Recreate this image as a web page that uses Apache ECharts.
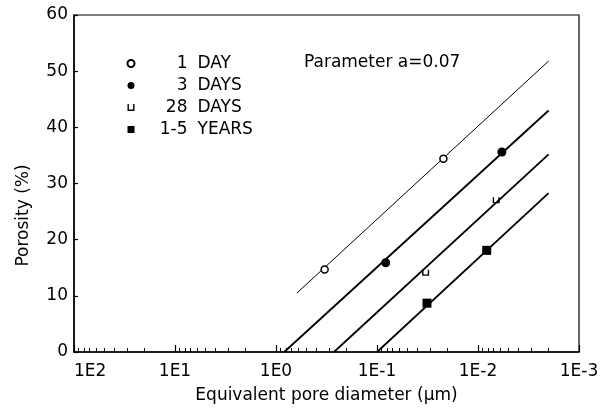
<!DOCTYPE html>
<html>
<head>
<meta charset="utf-8">
<script src="https://cdn.jsdelivr.net/npm/echarts@6/dist/echarts.min.js"></script>
<style>html,body{margin:0;padding:0;background:#fff}#c{width:607px;height:410px}</style>
</head>
<body>
<div id="c"></div>
<script>
// ---- data ----
var seriesNames = ['1 DAY', '3 DAYS', '28 DAYS', '1-5 YEARS'];
var legendNum = ['1', '3', '28', '1-5'];
var legendWord = ['DAY', 'DAYS', 'DAYS', 'YEARS'];

// measured points [diameter (um), porosity (%)]
var day1Points = [[0.33, 14.7], [0.022, 34.4]];
var day3Points = [[0.082, 15.9], [0.0058, 35.6]];
var day28Points = [[0.033, 14.1], [0.0066, 27.0]];
var year15Points = [[0.032, 8.7], [0.0082, 18.1]];

// fitted lines (end points) [diameter (um), porosity (%)]
var day1Line = [[0.62, 10.5], [0.002, 51.8]];
var day3Line = [[0.83, 0], [0.002, 43.0]];
var day28Line = [[0.267, 0], [0.002, 35.2]];
var year15Line = [[0.1, 0], [0.002, 28.3]];

// axis
var xMin = 0.001, xMax = 100;
var decades = [10, 1, 0.1, 0.01, 0.001];
var minorMult = [2, 3, 4, 5, 6, 7, 8, 9];
var parameterText = 'Parameter a=0.07';
var xTitle = 'Equivalent pore diameter (\u03bcm)';
var yTitle = 'Porosity (%)';

var minorTicks = [];
decades.forEach(function (d) { minorMult.forEach(function (m) { minorTicks.push(+(d * m).toPrecision(3)); }); });

var FONT = 'DejaVu Sans';
var chart = echarts.init(document.getElementById('c'), null, {renderer: 'canvas'});

var uPath = 'path://M0,0 L2,0 L2,8 L8,8 L8,0 L10,0 L10,10 L0,10 Z';

function lineSeries(name, data, w) {
  return {
    name: name, type: 'line', data: data, xAxisIndex: 0, yAxisIndex: 0,
    symbol: 'none', lineStyle: {color: '#000', width: w}, silent: true, z: 2
  };
}

// legend number right-alignment: measure widths with canvas
var meas = document.createElement('canvas').getContext('2d');
meas.font = '17px "' + FONT + '"';
var numRight = 48; // distance from text start to right edge of the number column
var legendRich = {};
legendNum.forEach(function (n, i) {
  var w = meas.measureText(n).width;
  legendRich['n' + i] = {padding: [0, 0, 0, Math.max(0, numRight - w)], fontFamily: FONT, fontSize: 17, color: '#000'};
});
legendRich.w = {padding: [0, 0, 0, 10], fontFamily: FONT, fontSize: 17, color: '#000'};

var option = {
  animation: false,
  backgroundColor: '#fff',
  textStyle: {fontFamily: FONT, color: '#000'},
  grid: {left: 74, right: 28, top: 15, bottom: 58, show: true, borderColor: '#000', borderWidth: 1.2, backgroundColor: 'transparent'},
  legend: {
    orient: 'vertical', left: 126.5, top: 55, padding: 0, itemWidth: 7, itemHeight: 7, itemGap: 5,
    data: [
      {name: seriesNames[0], icon: 'circle'},
      {name: seriesNames[1], icon: 'circle'},
      {name: seriesNames[2], icon: uPath},
      {name: seriesNames[3], icon: 'rect'}
    ],
    formatter: function (name) {
      var i = seriesNames.indexOf(name);
      return '{n' + i + '|' + legendNum[i] + '}{w|' + legendWord[i] + '}';
    },
    textStyle: {fontFamily: FONT, fontSize: 17, color: '#000', rich: legendRich}
  },
  graphic: [{
    type: 'text', left: 304, top: 54,
    style: {text: parameterText, font: '17px "' + FONT + '"', fill: '#000'}
  }],
  xAxis: [{
    type: 'log', logBase: 10, min: xMin, max: xMax, inverse: true, splitNumber: 5,
    name: xTitle, nameLocation: 'middle', nameGap: 35,
    nameTextStyle: {fontFamily: FONT, fontSize: 17, color: '#000'},
    axisLine: {lineStyle: {color: '#000', width: 1.5}},
    axisTick: {inside: true, length: 7, lineStyle: {color: '#000', width: 1.2}},
    axisLabel: {
      fontFamily: FONT, fontSize: 17, color: '#000', margin: 11, alignMaxLabel: 'left',
      formatter: function (v) { return '1E' + Math.round(Math.log10(v)); }
    },
    splitLine: {show: false}, minorTick: {show: false}
  }, {
    type: 'log', logBase: 10, min: xMin, max: xMax, inverse: true, position: 'bottom',
    axisLine: {show: false},
    axisTick: {inside: true, length: 4, customValues: minorTicks, lineStyle: {color: '#000', width: 1}},
    axisLabel: {show: false}, splitLine: {show: false}
  }],
  yAxis: {
    type: 'value', min: 0, max: 60, interval: 10,
    name: yTitle, nameLocation: 'middle', nameGap: 42,
    nameTextStyle: {fontFamily: FONT, fontSize: 17, color: '#000', padding: [0, 64, 0, 0]},
    axisLine: {lineStyle: {color: '#000', width: 1.5}},
    axisTick: {inside: true, length: 4, lineStyle: {color: '#000', width: 1.2}},
    axisLabel: {fontFamily: FONT, fontSize: 17, color: '#000', margin: 6},
    splitLine: {show: false}
  },
  series: [
    lineSeries('fit1', day1Line, 1),
    lineSeries('fit2', day3Line, 1.8),
    lineSeries('fit3', day28Line, 1.8),
    lineSeries('fit4', year15Line, 1.8),
    {name: seriesNames[0], type: 'scatter', data: day1Points, symbol: 'circle', symbolSize: 7,
     itemStyle: {color: '#fff', borderColor: '#000', borderWidth: 1.5, opacity: 1}, z: 5},
    {name: seriesNames[1], type: 'scatter', data: day3Points, symbol: 'circle', symbolSize: 9,
     itemStyle: {color: '#000', opacity: 1}, z: 5},
    {name: seriesNames[2], type: 'scatter', data: day28Points, symbol: uPath, symbolSize: [7, 6],
     itemStyle: {color: '#000', opacity: 1}, z: 5},
    {name: seriesNames[3], type: 'scatter', data: year15Points, symbol: 'rect', symbolSize: 9,
     itemStyle: {color: '#000', opacity: 1}, z: 5}
  ]
};
chart.setOption(option);
</script>
</body>
</html>
